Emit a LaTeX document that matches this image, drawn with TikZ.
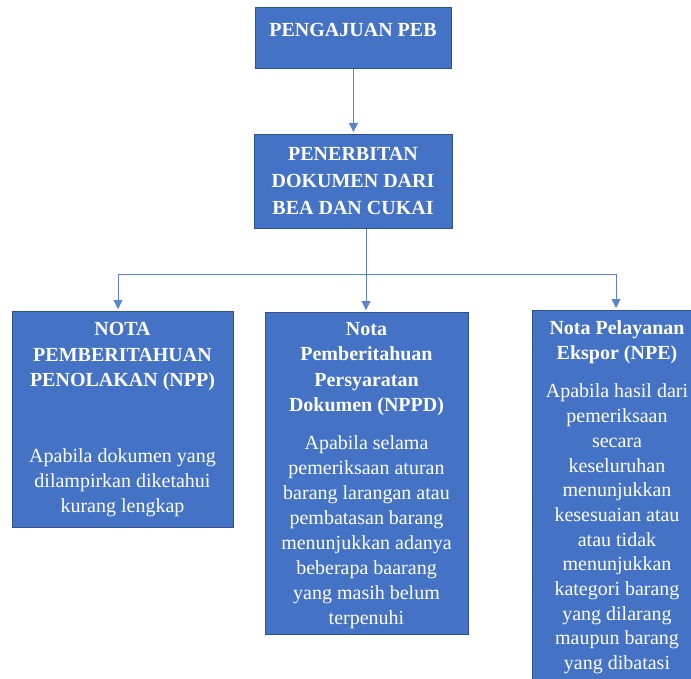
\documentclass[tikz,border=0pt]{standalone}
\usepackage{fontspec}
\setmainfont{Liberation Serif}
\usetikzlibrary{arrows.meta}
\definecolor{boxfill}{HTML}{4472C4}
\definecolor{boxline}{HTML}{2F528F}
\definecolor{linecol}{HTML}{5B84CC}
\tikzset{
  bx/.style={rectangle, fill=boxfill, draw=boxline, line width=0.9pt, inner sep=0pt, anchor=north west},
  ttl/.style={text=white, align=center, inner sep=0pt, font=\fontsize{20}{25.5}\selectfont\bfseries},
  bdy/.style={text=white, align=center, inner sep=0pt, font=\fontsize{20}{25}\selectfont},
  conn/.style={draw=linecol, line width=0.8pt},
  arr/.style={conn, -{Triangle[length=9pt,width=9pt]}, shorten >=2pt}
}
\begin{document}
\begin{tikzpicture}[x=1pt,y=-1pt]
\useasboundingbox (0,0) rectangle (691,679);
\clip (0,0) rectangle (691,679);
% boxes
\node[bx, minimum width=196pt, minimum height=61pt] (b1) at (255,7) {};
\node[bx, minimum width=198pt, minimum height=94pt] (b2) at (254,134) {};
\node[bx, minimum width=221pt, minimum height=216pt] (b3) at (12,311) {};
\node[bx, minimum width=203pt, minimum height=322pt] (b4) at (265,312) {};
\node[bx, minimum width=170pt, minimum height=390pt] (b5) at (532,310) {};
% texts
\node[ttl] (t1) at (353,30) {PENGAJUAN PEB};
\node[ttl, font=\fontsize{20}{27}\selectfont\bfseries] (t2) at (353,181) {PENERBITAN\\DOKUMEN DARI\\BEA DAN CUKAI};
\node[ttl] (t3) at (122.5,357) {NOTA\\PEMBERITAHUAN\\PENOLAKAN (NPP)};
\node[bdy] (d3) at (122.5,483) {Apabila dokumen yang\\dilampirkan diketahui\\kurang lengkap};
\node[ttl] (t4) at (366.5,369) {Nota\\Pemberitahuan\\Persyaratan\\Dokumen (NPPD)};
\node[bdy] (d4) at (366.5,532) {Apabila selama\\pemeriksaan aturan\\barang larangan atau\\pembatasan barang\\menunjukkan adanya\\beberapa baarang\\yang masih belum\\terpenuhi};
\node[ttl] (t5) at (617,342) {Nota Pelayanan\\Ekspor (NPE)};
\node[bdy, font=\fontsize{20}{24.7}\selectfont] (d5) at (617,529) {Apabila hasil dari\\pemeriksaan\\secara\\keseluruhan\\menunjukkan\\kesesuaian atau\\atau tidak\\menunjukkan\\kategori barang\\yang dilarang\\maupun barang\\yang dibatasi};
% connectors
\draw[arr] (b1.south) -- (b2.north);
\coordinate (hm) at (366,274);
\coordinate (hl) at (118,274);
\coordinate (hr) at (616,274);
\draw[conn] (hm |- b2.south) -- (hm);
\draw[conn] (hl) -- (hr);
\draw[arr] (hl) -- (hl |- b3.north);
\draw[arr] (hm) -- (hm |- b4.north);
\draw[arr] (hr) -- (hr |- b5.north);
\end{tikzpicture}
\end{document}
